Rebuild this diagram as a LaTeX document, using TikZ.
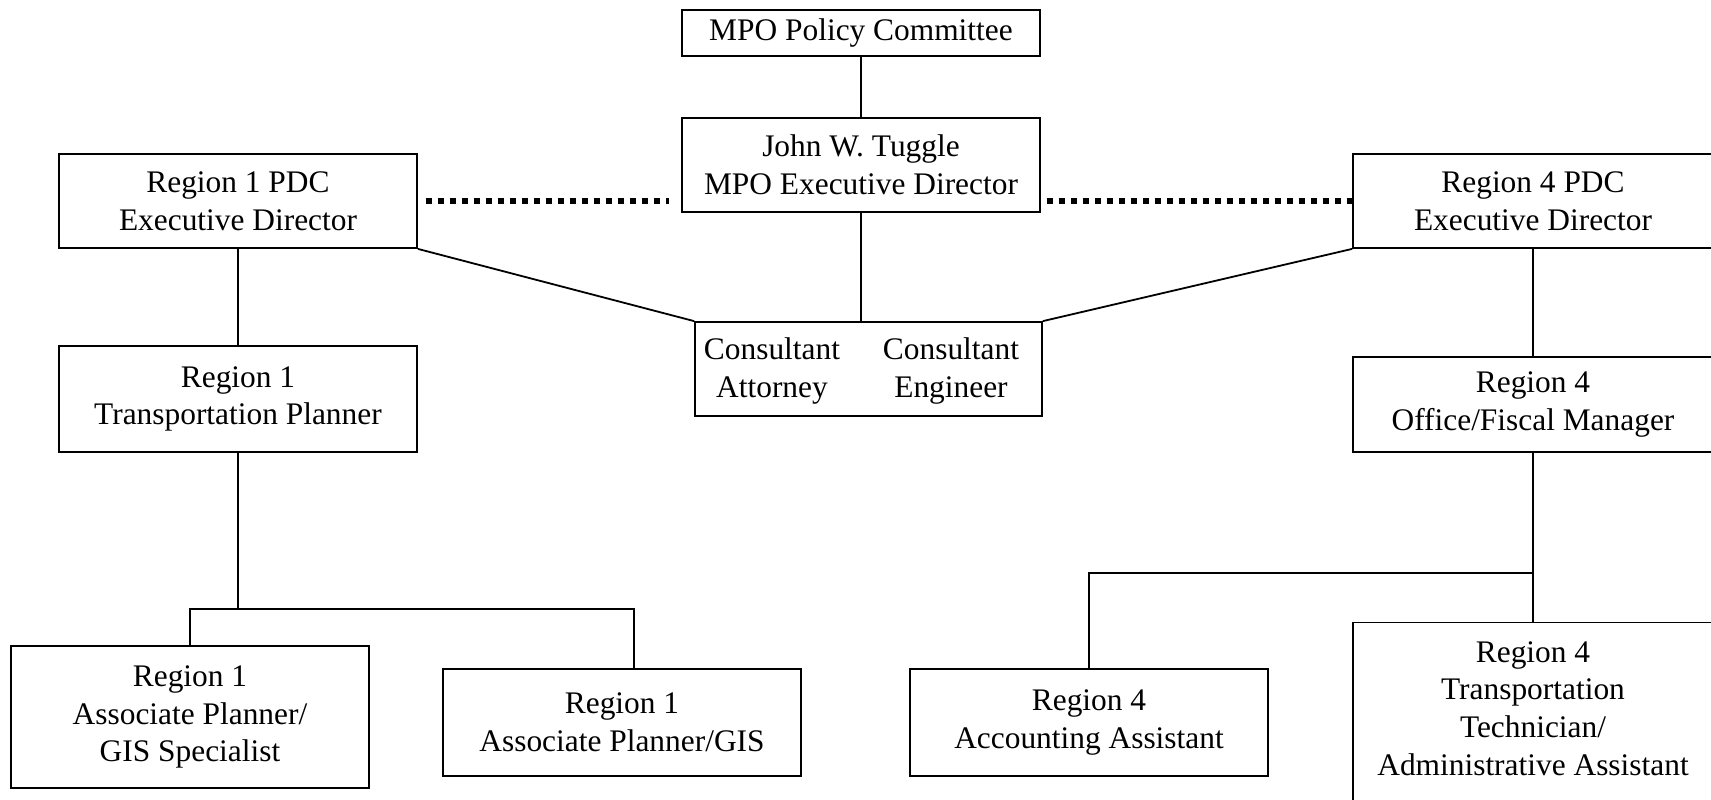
\documentclass[tikz,border=0pt]{standalone}
\usepackage{fontspec}
\setmainfont{Liberation Serif}
\usetikzlibrary{calc,graphs}
\newcommand{\orgfont}{\fontsize{15.7}{18.8}\selectfont}
\tikzset{
    box/.style={draw, line width=0.9pt, rectangle, align=center, inner sep=0pt,
        minimum width=179pt, font=\orgfont},
    link/.style={line width=0.9pt},
    tie/.style={line width=2.6pt, dash pattern=on 2.8pt off 3.2pt},
}

\begin{document}
\begin{tikzpicture}[x=0.5pt, y=-0.5pt]
            \useasboundingbox (0,0) rectangle (1711,799) ;

            % top of the chart
            \node[box, minimum height=23pt] (pc) at (861,33) {MPO Policy Committee} ;
            \node[box, minimum height=47pt] (dir) at (861,165) {John W. Tuggle\\MPO Executive Director} ;
            \node[box, minimum height=47pt] (r1pdc) at (238,201) {Region 1 PDC\\Executive Director} ;
            \node[box, minimum height=47pt, minimum width=180pt] (r4pdc) at (1533,201) {Region 4 PDC\\Executive Director} ;

            % consultants share one box
            \node[box, minimum height=47pt, minimum width=173.5pt] (cons) at (868.5,369) {} ;
            \node[align=center, inner sep=0pt, font=\orgfont] (att) at (772,371) {Consultant\\Attorney} ;
            \node[align=center, inner sep=0pt, font=\orgfont] (eng) at (951,371) {Consultant\\Engineer} ;

            % second row
            \node[box, minimum height=53pt] (r1tp) at (238,399) {Region 1\\Transportation Planner} ;
            \node[box, minimum height=47.5pt, minimum width=180pt] (r4ofm) at (1533,404.5) {Region 4\\Office/Fiscal Manager} ;

            % bottom row
            \node[box, minimum height=71pt] (r1aps) at (190,717) {Region 1\\Associate Planner/\\GIS Specialist} ;
            \node[box, minimum height=53.5pt] (r1apg) at (622,722.5) {Region 1\\Associate Planner/GIS} ;
            \node[box, minimum height=53.5pt] (r4aa) at (1089,722.5) {Region 4\\Accounting Assistant} ;
            \node[box, minimum height=100pt, minimum width=180pt, anchor=north] (r4tt) at (1533,621.5) {} ;
            \node[align=center, inner sep=0pt, font=\orgfont] (r4ttx) at (1533,708.5)
                {Region 4\\Transportation\\Technician/\\Administrative Assistant} ;

            \graph[use existing nodes, edges={link}] {
                pc -- dir ;
                r1pdc -- r1tp ;
                r4pdc -- r4ofm ;
            } ;

            \draw[link] (dir.south) -- (dir.south |- cons.north) ;
            \draw[link] (r1pdc.south east) -- (cons.north west) ;
            \draw[link] (cons.north east) -- (r4pdc.south west) ;

            % dotted ties between directors
            \draw[tie, shorten <=4pt, shorten >=6pt] (r1pdc.east) -- (r1pdc.east -| dir.west) ;
            \draw[tie, shorten <=3pt] (r4pdc.west -| dir.east) -- (r4pdc.west) ;

            % region 1 staff
            \coordinate (r1jl) at (190,609) ;
            \coordinate (r1jr) at (634,609) ;
            \draw[link] (r1tp.south) -- (r1tp.south |- r1jl) ;
            \draw[link] (r1aps.north) -- (r1jl) -- (r1jr) -- (r1jr |- r1apg.north) ;

            % region 4 staff
            \coordinate (r4j) at (1533,573) ;
            \draw[link] (r4ofm.south) -- (r4tt.north) ;
            \draw[link] (r4j) -| (r4aa.north) ;
        \end{tikzpicture}
\end{document}
